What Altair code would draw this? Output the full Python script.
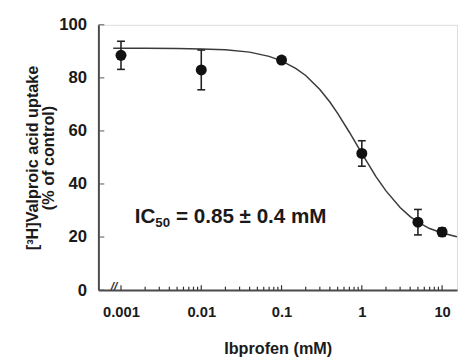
import altair as alt
import pandas as pd

# Measured data points (Ibprofen concentration, mM) and uptake (% of control)
conc = [0.001, 0.01, 0.1, 1, 5, 10]
uptake = [88.5, 83.0, 86.7, 51.5, 25.6, 21.9]
sem = [5.3, 7.5, 1.0, 4.8, 4.8, 1.5]

# Fitted curve
curve_x = [0.0008, 0.002, 0.005, 0.01, 0.02, 0.04, 0.07, 0.1, 0.15, 0.2, 0.3,
           0.4, 0.5, 0.7, 1, 1.5, 2, 3, 4, 5, 7, 10, 15.3]
curve_y = [91.2, 91.2, 91.1, 90.9, 90.6, 89.7, 88.1, 86.4, 83.6, 80.9, 75.6,
           70.9, 66.6, 59.5, 51.5, 42.8, 37.4, 31.1, 27.7, 25.6, 23.2, 21.5, 20.1]

# Axis ticks
x_labels = [0.001, 0.01, 0.1, 1, 10]
x_minor = [0.002, 0.003, 0.004, 0.005, 0.006, 0.007, 0.008, 0.009,
           0.02, 0.03, 0.04, 0.05, 0.06, 0.07, 0.08, 0.09,
           0.2, 0.3, 0.4, 0.5, 0.6, 0.7, 0.8, 0.9,
           2, 3, 4, 5, 6, 7, 8, 9]
y_ticks = [0, 20, 40, 60, 80, 100]

FONT = "Liberation Sans"
X_DOMAIN = [0.000523, 15.35]

pts = pd.DataFrame({"x": conc, "y": uptake, "lo": [u - s for u, s in zip(uptake, sem)],
                    "hi": [u + s for u, s in zip(uptake, sem)]})
cur = pd.DataFrame({"x": curve_x, "y": curve_y})

xs = alt.Scale(type="log", domain=X_DOMAIN)
ys = alt.Scale(domain=[0, 100])

xaxis = alt.Axis(values=x_labels, format="~g", grid=False, ticks=False, tickSize=0,
                 labelPadding=15, labelFont=FONT, labelFontSize=15, labelFontWeight="bold",
                 labelColor="#1a1a1a", domainColor="#4a4a4a", domainWidth=2,
                 title="Ibprofen (mM)", titleFont=FONT, titleFontSize=16.5,
                 titleFontWeight="bold", titleColor="#1a1a1a", titlePadding=22,
                 labelFlush=False)
yaxis = alt.Axis(values=y_ticks, grid=False, ticks=False, tickSize=0, labelPadding=12,
                 labelFont=FONT, labelFontSize=17, labelFontWeight="bold",
                 labelColor="#1a1a1a", domainColor="#4a4a4a", domainWidth=2,
                 title=["[³H]Valproic acid uptake", "(% of control)"], titleFont=FONT,
                 titleFontSize=16.5, titleFontWeight="bold", titleColor="#1a1a1a",
                 titlePadding=2, titleLineHeight=17, labelFlush=False)

line = alt.Chart(cur).mark_line(color="#3a3a3a", strokeWidth=1.5).encode(
    x=alt.X("x:Q", scale=xs, axis=xaxis),
    y=alt.Y("y:Q", scale=ys, axis=yaxis),
)

err = alt.Chart(pts).mark_rule(color="#222222", strokeWidth=1.6).encode(
    x=alt.X("x:Q", scale=xs), y=alt.Y("lo:Q", scale=ys), y2="hi:Q")
cap_lo = alt.Chart(pts).mark_tick(orient="horizontal", size=8, thickness=1.6,
                                  color="#222222", opacity=1).encode(
    x=alt.X("x:Q", scale=xs), y=alt.Y("lo:Q", scale=ys))
cap_hi = alt.Chart(pts).mark_tick(orient="horizontal", size=8, thickness=1.6,
                                  color="#222222", opacity=1).encode(
    x=alt.X("x:Q", scale=xs), y=alt.Y("hi:Q", scale=ys))
dots = alt.Chart(pts).mark_circle(size=125, color="#111111", opacity=1).encode(
    x=alt.X("x:Q", scale=xs), y=alt.Y("y:Q", scale=ys))

xmaj = alt.Chart(pd.DataFrame({"t": x_labels})).mark_rule(color="#333333", strokeWidth=1.2).encode(
    x=alt.X("t:Q", scale=xs), y=alt.value(270), y2=alt.value(265))
xmin = alt.Chart(pd.DataFrame({"t": x_minor})).mark_rule(color="#333333", strokeWidth=1.2).encode(
    x=alt.X("t:Q", scale=xs), y=alt.value(270), y2=alt.value(266.5))
ytk = alt.Chart(pd.DataFrame({"t": y_ticks})).mark_rule(color="#555555", strokeWidth=1).encode(
    y=alt.Y("t:Q", scale=ys), x=alt.value(0), x2=alt.value(6))

brk = alt.Chart(pd.DataFrame({"x": [0.00082], "y": [1.5], "s": ["//"]})).mark_text(
    font=FONT, fontSize=12, fontWeight="bold", fontStyle="italic", color="#333333",
    align="center", baseline="middle").encode(
    x=alt.X("x:Q", scale=xs), y=alt.Y("y:Q", scale=ys), text="s:N")

ann = pd.DataFrame({"x": [0.00148], "y": [27.5]})
t1 = alt.Chart(ann).mark_text(text="IC", font=FONT, fontSize=21, fontWeight="bold",
                               color="#1a1a1a", align="left", baseline="middle").encode(
    x=alt.X("x:Q", scale=xs), y=alt.Y("y:Q", scale=ys))
t2 = alt.Chart(ann).mark_text(text="50", font=FONT, fontSize=13.5, fontWeight="bold",
                               color="#1a1a1a", align="left", baseline="middle",
                               dx=21, dy=6).encode(
    x=alt.X("x:Q", scale=xs), y=alt.Y("y:Q", scale=ys))
t3 = alt.Chart(ann).mark_text(text="= 0.85 \u00b1  0.4 mM", font=FONT, fontSize=21,
                               fontWeight="bold", color="#1a1a1a", align="left",
                               baseline="middle", dx=42).encode(
    x=alt.X("x:Q", scale=xs), y=alt.Y("y:Q", scale=ys))

chart = alt.layer(line, xmaj, xmin, ytk, brk, err, cap_lo, cap_hi, dots, t1, t2, t3).properties(
    width=365, height=270,
    autosize=alt.AutoSizeParams(type="none"),
    padding={"left": 92, "top": 14, "right": 2, "bottom": 66},
).configure_view(stroke=None).configure(background="white")

chart.save("out.html", embed_options={"renderer": "svg", "actions": False})
